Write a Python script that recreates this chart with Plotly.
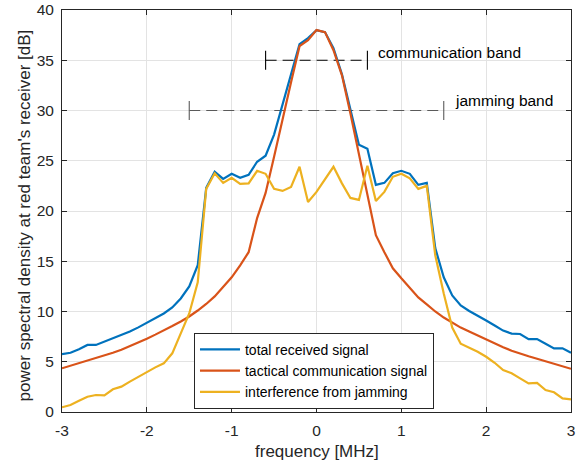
import plotly.graph_objects as go

# ---------------- data ----------------
freq = [-3.0, -2.9, -2.8, -2.7, -2.6, -2.5, -2.4, -2.3, -2.2, -2.1,
        -2.0, -1.9, -1.8, -1.7, -1.6, -1.5, -1.4, -1.3, -1.2, -1.1,
        -1.0, -0.9, -0.8, -0.7, -0.6, -0.5, -0.4, -0.3, -0.2, -0.1,
        0.0, 0.1, 0.2, 0.3, 0.4, 0.5, 0.6, 0.7, 0.8, 0.9,
        1.0, 1.1, 1.2, 1.3, 1.4, 1.5, 1.6, 1.7, 1.8, 1.9,
        2.0, 2.1, 2.2, 2.3, 2.4, 2.5, 2.6, 2.7, 2.8, 2.9, 3.0]

total_received = [5.75, 5.9, 6.25, 6.67, 6.67, 7.0, 7.27, 7.65, 8.0, 8.42,
                  8.9, 9.3, 9.8, 10.4, 11.3, 12.5, 14.6, 22.3, 23.9, 23.2,
                  23.7, 23.3, 23.6, 24.9, 25.5, 27.6, 30.6, 33.6, 36.6, 37.2,
                  38.0, 37.8, 36.2, 33.6, 30.0, 26.6, 26.2, 22.6, 22.8, 23.75,
                  24.0, 23.7, 22.6, 22.8, 16.3, 13.4, 11.6, 10.6, 10.05, 9.6,
                  9.1, 8.6, 8.1, 7.8, 7.76, 7.25, 7.25, 6.8, 6.33, 6.33, 5.9]

tactical_comm = [4.35, 4.6, 4.85, 5.1, 5.35, 5.6, 5.9, 6.2, 6.55, 6.9,
                 7.3, 7.7, 8.1, 8.55, 9.0, 9.5, 10.1, 10.75, 11.5, 12.4,
                 13.4, 14.6, 15.9, 19.3, 21.8, 25.4, 29.2, 32.8, 36.4, 37.0,
                 38.0, 37.8, 36.0, 33.5, 29.7, 25.7, 21.4, 17.6, 15.9, 14.3,
                 13.3, 12.3, 11.4, 10.7, 10.0, 9.4, 8.9, 8.4, 8.0, 7.6,
                 7.25, 6.85, 6.45, 6.1, 5.8, 5.55, 5.3, 5.05, 4.8, 4.55, 4.3]

jamming = [0.47, 0.7, 1.12, 1.52, 1.69, 1.66, 2.26, 2.52, 3.02, 3.5,
           4.0, 4.44, 4.84, 5.84, 7.83, 9.8, 12.9, 22.2, 23.75, 22.8,
           23.3, 22.7, 22.75, 24.0, 23.7, 22.2, 22.0, 22.4, 24.4, 20.9,
           21.9, 23.2, 24.4, 22.75, 21.3, 21.1, 24.5, 21.0, 21.9, 23.4,
           23.7, 23.25, 22.2, 22.5, 15.6, 11.8, 8.4, 6.8, 6.4, 6.0,
           5.5, 4.9, 4.18, 3.85, 3.35, 2.85, 2.9, 2.19, 1.96, 1.36, 1.26]

series_names = ["total received signal", "tactical communication signal",
                "interference from jamming"]

band_labels = ["communication band", "jamming band"]
band_lo = [-0.6, -1.5]
band_hi = [0.6, 1.5]
band_level = [35, 30]
band_label_x = [0.7, 1.61]
band_label_y = [35.75, 31.0]

x_tick_vals = [-3, -2, -1, 0, 1, 2, 3]
x_tick_text = ["-3", "-2", "-1", "0", "1", "2", "3"]
y_tick_vals = [0, 5, 10, 15, 20, 25, 30, 35, 40]
y_tick_text = ["0", "5", "10", "15", "20", "25", "30", "35", "40"]

# ---------------- style ----------------
FONT = "Liberation Sans, Arial, Helvetica, sans-serif"
AX = "#262626"
colors = ["#0072BD", "#D95319", "#EDB120"]
band_colors = ["#000000", "#5a5a5a"]
cap_half = 0.95

fig = go.Figure()

# band indicators
for i in range(len(band_labels)):
    fig.add_trace(go.Scatter(
        x=[band_lo[i], band_hi[i]], y=[band_level[i], band_level[i]],
        mode="lines", line=dict(color=band_colors[i], width=1.1, dash="11px,6px"),
        showlegend=False, hoverinfo="skip"))
    fig.add_trace(go.Scatter(
        x=[band_lo[i], band_lo[i], None, band_hi[i], band_hi[i]],
        y=[band_level[i] - cap_half, band_level[i] + cap_half, None,
           band_level[i] - cap_half, band_level[i] + cap_half],
        mode="lines", line=dict(color=band_colors[i], width=1.1),
        showlegend=False, hoverinfo="skip"))

for name, vals, c in zip(series_names, [total_received, tactical_comm, jamming], colors):
    fig.add_trace(go.Scatter(x=freq, y=vals, mode="lines", name=name,
                             line=dict(color=c, width=2.2)))

annotations = []
for i in range(len(band_labels)):
    annotations.append(dict(x=band_label_x[i], y=band_label_y[i], xref="x", yref="y",
                            text=band_labels[i], showarrow=False, xanchor="left",
                            yanchor="middle", font=dict(family=FONT, size=15.5, color="#000000")))
annotations.append(dict(x=-0.0747, y=0.489, xref="paper", yref="paper",
                        text="power spectral density at red team's receiver [dB]",
                        textangle=-90, showarrow=False, xanchor="center", yanchor="middle",
                        font=dict(family=FONT, size=17, color=AX)))
annotations.append(dict(x=0.5, y=-0.0995, xref="paper", yref="paper",
                        text="frequency [MHz]", showarrow=False, xanchor="center",
                        yanchor="middle", font=dict(family=FONT, size=17, color=AX)))

axis_common = dict(showline=True, linecolor=AX, linewidth=1, mirror="allticks",
                   ticks="inside", ticklen=5, tickcolor=AX, tickwidth=1,
                   showgrid=True, gridcolor="#e3e3e3", gridwidth=1, zeroline=False,
                   automargin=False,
                   tickfont=dict(family=FONT, size=15.5, color=AX))

fig.update_layout(
    width=584, height=468,
    margin=dict(l=62, r=13, t=10, b=56, autoexpand=False),
    paper_bgcolor="white", plot_bgcolor="white",
    font=dict(family=FONT, color=AX),
    xaxis=dict(range=[-3, 3], tickvals=x_tick_vals, ticktext=x_tick_text,
               ticklabelstandoff=4, **axis_common),
    yaxis=dict(range=[0, 40], tickvals=y_tick_vals, ticktext=y_tick_text,
               ticklabelstandoff=4, **axis_common),
    legend=dict(x=0.2593, y=0.197, xanchor="left", yanchor="top",
                bgcolor="white", bordercolor=AX, borderwidth=1,
                font=dict(family=FONT, size=14, color="#000000"),
                tracegroupgap=0, itemwidth=40),
    annotations=annotations,
    showlegend=True,
)

fig.write_html("out.html")
